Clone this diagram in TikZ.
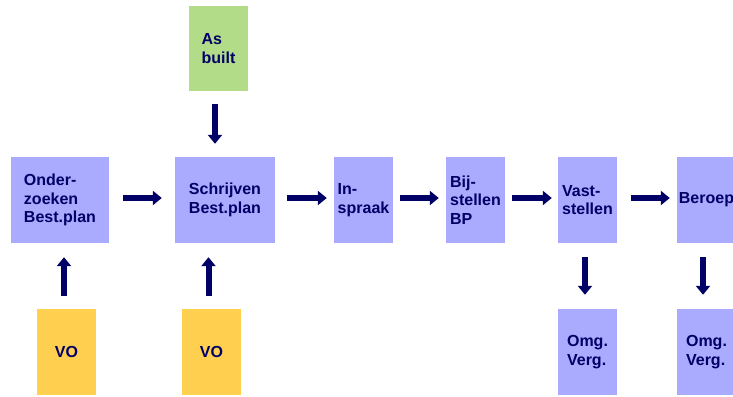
\documentclass[tikz,border=0pt]{standalone}
\usepackage{fontspec}
\setmainfont{Liberation Sans}
\usetikzlibrary{arrows.meta}
\definecolor{boxblue}{HTML}{AAAAFF}
\definecolor{voyellow}{HTML}{FFCF4F}
\definecolor{asgreen}{HTML}{B2DC88}
\definecolor{navy}{HTML}{000066}
\begin{document}
\begin{tikzpicture}[x=1pt,y=-1pt,
  box/.style={fill=boxblue, minimum width=59pt, minimum height=86pt, inner sep=0pt,
    align=left, text=navy, font=\bfseries\fontsize{16}{18.5}\selectfont},
  flow/.style={draw=navy, line width=6pt, -{Triangle[length=9pt,width=14pt]}}]
\useasboundingbox (0,0) rectangle (733,396);
\clip (0,0) rectangle (733,396);
\node[box, minimum width=98pt] (ond) at (60,200) {Onder-\\zoeken\\Best.plan};
\node[box, minimum width=100pt, align=center] (sch) at (225,200) {Schrijven\\Best.plan};
\node[box] (insp) at (363.5,200) {In-\\spraak};
\node[box] (bij) at (475.5,200) {Bij-\\stellen\\BP};
\node[box] (vast) at (587.5,200) {Vast-\\stellen};
\node[box] (ber) at (706.5,200) {Beroep};
\node[box, fill=asgreen, minimum height=85pt] (asb) at (218.5,48.5) {As\\built};
\node[box, fill=voyellow] (vo1) at (66.5,352) {VO};
\node[box, fill=voyellow] (vo2) at (211.5,352) {VO};
\node[box] (omg1) at (587.5,352) {Omg.\\Verg.};
\node[box] (omg2) at (706.5,352) {Omg.\\Verg.};
% horizontal flow
\draw[flow, shorten <=14pt, shorten >=13pt] ([yshift=2pt]ond.east) -- ([yshift=2pt]sch.west);
\draw[flow, shorten <=12pt, shorten >=7pt] ([yshift=2pt]sch.east) -- ([yshift=2pt]insp.west);
\draw[flow, shorten <=7pt, shorten >=7pt] ([yshift=2pt]insp.east) -- ([yshift=2pt]bij.west);
\draw[flow, shorten <=7pt, shorten >=6pt] ([yshift=2pt]bij.east) -- ([yshift=2pt]vast.west);
\draw[flow, shorten <=14pt, shorten >=7pt] ([yshift=2pt]vast.east) -- ([yshift=2pt]ber.west);
% vertical flow
\draw[flow, shorten <=13pt, shorten >=13pt] ([xshift=-3.5pt]asb.south) -- ([xshift=-3.5pt]asb.south |- sch.north);
\draw[flow, shorten <=13pt, shorten >=14pt] ([xshift=-2.5pt]vo1.north) -- ([xshift=-2.5pt]vo1.north |- ond.south);
\draw[flow, shorten <=13pt, shorten >=14pt] ([xshift=-3pt]vo2.north) -- ([xshift=-3pt]vo2.north |- sch.south);
\draw[flow, shorten <=14pt, shorten >=14pt] ([xshift=-2.5pt]vast.south) -- ([xshift=-2.5pt]vast.south |- omg1.north);
\draw[flow, shorten <=14pt, shorten >=14pt] ([xshift=-3.5pt]ber.south) -- ([xshift=-3.5pt]ber.south |- omg2.north);
\end{tikzpicture}
\end{document}
